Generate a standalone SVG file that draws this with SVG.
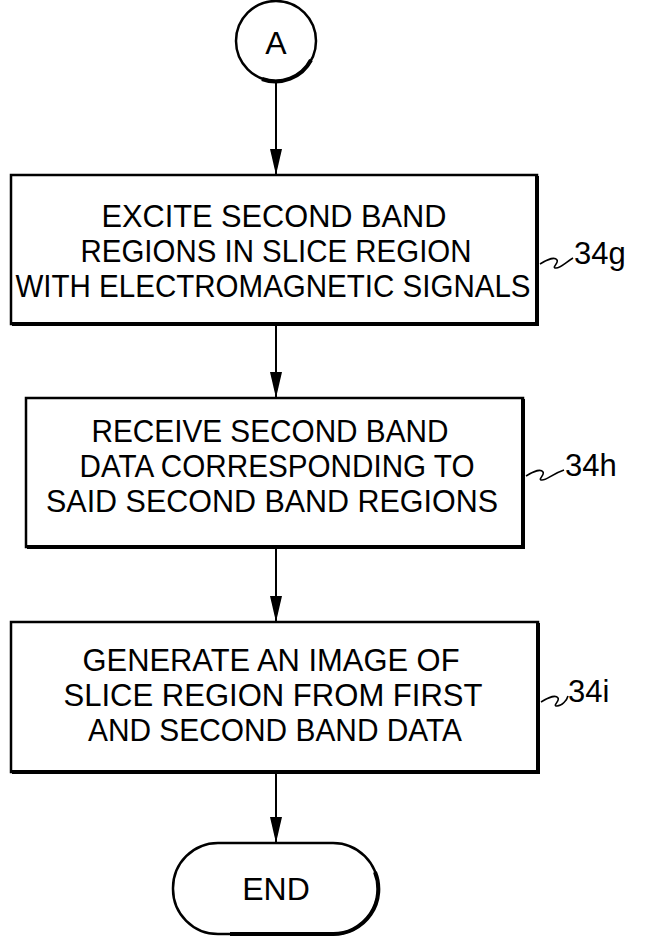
<svg xmlns="http://www.w3.org/2000/svg" width="667" height="941" viewBox="0 0 667 941">
<style>
.s{fill:none;stroke:#000;stroke-width:2.5}
.h{fill:none;stroke:#000;stroke-width:4}
.t{font-family:"Liberation Sans",Arial,sans-serif;font-size:32px;fill:#000;text-anchor:middle}
.l{font-family:"Liberation Sans",Arial,sans-serif;font-size:31px;fill:#000}
.c{fill:none;stroke:#000;stroke-width:2}
.q{fill:none;stroke:#000;stroke-width:1.6}
</style>
<defs>
<marker id="ah" markerWidth="26" markerHeight="12" refX="26" refY="6" orient="auto" markerUnits="userSpaceOnUse" viewBox="0 0 26 12">
<path d="M0,0 L26,6 L0,12 Z" fill="#000"/>
</marker>
</defs>
<rect width="667" height="941" fill="#fff"/>
<g id="connectors">
<line class="c" x1="276" y1="82" x2="276" y2="175" marker-end="url(#ah)"/>
<line class="c" x1="276" y1="325" x2="276" y2="398" marker-end="url(#ah)"/>
<line class="c" x1="276" y1="548" x2="276" y2="622" marker-end="url(#ah)"/>
<line class="c" x1="276" y1="773" x2="276" y2="843" marker-end="url(#ah)"/>
</g>
<g id="nodeA">
<circle class="s" cx="276" cy="41" r="40"/>
<path class="h" d="M311,60 A40,40 0 0 1 262,79"/>
<text class="t" x="276" y="54" font-size="34">A</text>
</g>
<g id="node34g">
<rect class="s" x="11" y="175" width="526" height="149"/>
<path class="h" d="M537,176 V324 H12"/>
<text class="t" x="274" y="227" textLength="345" lengthAdjust="spacingAndGlyphs">EXCITE  SECOND  BAND</text>
<text class="t" x="276" y="262" textLength="391" lengthAdjust="spacingAndGlyphs">REGIONS  IN  SLICE  REGION</text>
<text class="t" x="273" y="297" textLength="515" lengthAdjust="spacingAndGlyphs">WITH  ELECTROMAGNETIC  SIGNALS</text>
<path class="q" d="M540,264 C548,259 555,257 557,260 C559,263 551,268 556,268 C561,268 566,262 573,258"/>
<text class="l" x="574" y="264">34g</text>
</g>
<g id="node34h">
<rect class="s" x="26" y="398" width="497" height="149"/>
<path class="h" d="M523,399 V547 H27"/>
<text class="t" x="270" y="442" textLength="357" lengthAdjust="spacingAndGlyphs">RECEIVE  SECOND  BAND</text>
<text class="t" x="277" y="477" textLength="395" lengthAdjust="spacingAndGlyphs">DATA  CORRESPONDING  TO</text>
<text class="t" x="272" y="512" textLength="452" lengthAdjust="spacingAndGlyphs">SAID  SECOND  BAND  REGIONS</text>
<path class="q" d="M526,476 C534,471 541,469 543,472 C545,475 537,480 542,480 C547,480 552,474 564,470"/>
<text class="l" x="565" y="476">34h</text>
</g>
<g id="node34i">
<rect class="s" x="11" y="622" width="527" height="150"/>
<path class="h" d="M538,623 V772 H12"/>
<text class="t" x="271" y="671" textLength="377" lengthAdjust="spacingAndGlyphs">GENERATE  AN  IMAGE  OF</text>
<text class="t" x="273" y="706" textLength="419" lengthAdjust="spacingAndGlyphs">SLICE  REGION  FROM  FIRST</text>
<text class="t" x="275" y="741" textLength="374" lengthAdjust="spacingAndGlyphs">AND  SECOND  BAND  DATA</text>
<path class="q" d="M541,702 C549,697 556,695 558,698 C560,701 552,706 557,706 C562,706 567,700 568,696"/>
<text class="l" x="568" y="702">34i</text>
</g>
<g id="nodeEND">
<rect class="s" x="173" y="843" width="205" height="91" rx="45" ry="45"/>
<path class="h" d="M375,872 A45,45 0 0 1 333,934 H230"/>
<text class="t" x="276" y="900">END</text>
</g>
</svg>
